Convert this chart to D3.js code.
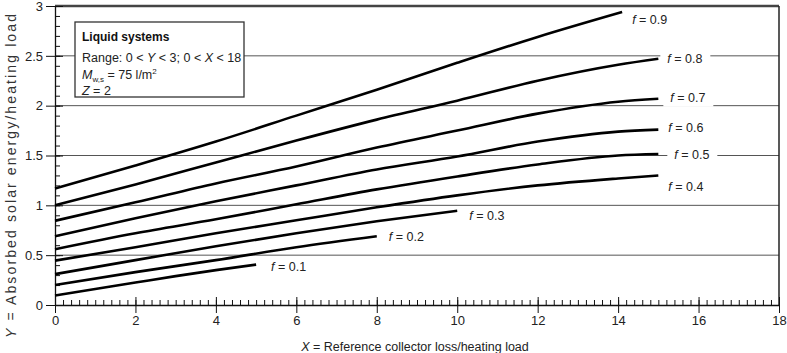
<!DOCTYPE html>
<html>
<head>
<meta charset="utf-8">
<script src="https://cdn.jsdelivr.net/npm/d3@7"></script>
<style>
  body { margin: 0; background: #fff; }
  svg { display: block; font-family: "Liberation Sans", Arial, sans-serif; }
  .axis text { font-size: 13px; fill: #222; }
  .axis path, .axis line { stroke: #111; }
</style>
</head>
<body>
<svg id="chart" width="787" height="353"></svg>
<script>
// chart values
var xTicks = [0, 2, 4, 6, 8, 10, 12, 14, 16, 18];
var yTicks = [0, 0.5, 1, 1.5, 2, 2.5, 3];
var fNames = ["0.1", "0.2", "0.3", "0.4", "0.5", "0.6", "0.7", "0.8", "0.9"];

var xF01 = [0, 1, 2, 3, 4, 5];
var yF01 = [0.095, 0.16, 0.225, 0.29, 0.35, 0.405];
var xF02 = [0, 2, 4, 6, 8];
var yF02 = [0.20, 0.33, 0.45, 0.58, 0.69];
var xF03 = [0, 2, 4, 6, 8, 10];
var yF03 = [0.31, 0.45, 0.59, 0.72, 0.84, 0.945];
var xLong = [0, 2, 4, 6, 8, 10, 12, 14, 15];
var yF04 = [0.445, 0.58, 0.72, 0.85, 0.98, 1.10, 1.20, 1.27, 1.30];
var yF05 = [0.56, 0.72, 0.86, 1.01, 1.16, 1.29, 1.41, 1.50, 1.515];
var yF06 = [0.69, 0.87, 1.04, 1.20, 1.36, 1.49, 1.64, 1.74, 1.76];
var yF07 = [0.845, 1.03, 1.22, 1.39, 1.58, 1.75, 1.92, 2.04, 2.07];
var yF08 = [1.0, 1.21, 1.43, 1.65, 1.86, 2.05, 2.25, 2.41, 2.47];
var xF09 = [0, 2, 4, 6, 8, 10, 12, 14.1];
var yF09 = [1.17, 1.40, 1.64, 1.90, 2.16, 2.43, 2.69, 2.94];

// label offsets from the end of each curve (layout only)
var labelDx = [15, 12, 12, 10, 16, 10, 12, 9, 10];
var labelDy = [2, 0, 5, 11, 1, -2, -1, 0, 8];

function pairs(xs, ys) {
  return xs.map(function(d, i) { return [d, ys[i]]; });
}

var series = [
  pairs(xF01, yF01), pairs(xF02, yF02), pairs(xF03, yF03),
  pairs(xLong, yF04), pairs(xLong, yF05), pairs(xLong, yF06),
  pairs(xLong, yF07), pairs(xLong, yF08), pairs(xF09, yF09)
];

var svg = d3.select("#chart"),
    margin = {top: 6, right: 8, bottom: 48, left: 55},
    width = +svg.attr("width") - margin.left - margin.right,
    height = +svg.attr("height") - margin.top - margin.bottom;

var x = d3.scaleLinear().domain([0, 18]).range([margin.left, margin.left + width]);
var y = d3.scaleLinear().domain([0, 3]).range([margin.top + height, margin.top]);

// grid lines
svg.append("g").selectAll("line")
    .data(yTicks.filter(function(d) { return d > 0 && d < 3; }))
  .enter().append("line")
    .attr("x1", x(0)).attr("x2", x(18))
    .attr("y1", function(d) { return y(d); })
    .attr("y2", function(d) { return y(d); })
    .attr("stroke", "#555").attr("stroke-width", 1);

// top and right frame
svg.append("line")
    .attr("x1", x(0)).attr("x2", x(18))
    .attr("y1", y(3)).attr("y2", y(3))
    .attr("stroke", "#444").attr("stroke-width", 2.5);
svg.append("line")
    .attr("x1", x(18)).attr("x2", x(18))
    .attr("y1", y(3)).attr("y2", y(0))
    .attr("stroke", "#222").attr("stroke-width", 1.5);

// y axis: minor inward, major inward, major outward with labels
svg.append("g").attr("class", "axis")
    .attr("transform", "translate(" + x(0) + ",0)")
    .call(d3.axisRight(y).tickValues(d3.range(0, 31).map(function(d) { return d / 10; }))
          .tickSize(5).tickFormat(""))
    .call(function(g) { g.select(".domain").remove(); });
svg.append("g").attr("class", "axis")
    .attr("transform", "translate(" + x(0) + ",0)")
    .call(d3.axisRight(y).tickValues(yTicks).tickSize(8).tickFormat(""))
    .call(function(g) { g.select(".domain").remove(); });
svg.append("g").attr("class", "axis")
    .attr("transform", "translate(" + x(0) + ",0)")
    .call(d3.axisLeft(y).tickValues(yTicks).tickSize(9).tickSizeOuter(0).tickPadding(3)
          .tickFormat(function(d) { return String(d); }));

// x axis
svg.append("g").attr("class", "axis")
    .attr("transform", "translate(0," + y(0) + ")")
    .call(d3.axisTop(x).tickValues(d3.range(0, 91).map(function(d) { return d / 5; }))
          .tickSize(5).tickFormat(""))
    .call(function(g) { g.select(".domain").remove(); });
svg.append("g").attr("class", "axis")
    .attr("transform", "translate(0," + y(0) + ")")
    .call(d3.axisTop(x).tickValues(xTicks).tickSize(8).tickFormat(""))
    .call(function(g) { g.select(".domain").remove(); });
svg.append("g").attr("class", "axis")
    .attr("transform", "translate(0," + y(0) + ")")
    .call(d3.axisBottom(x).tickValues(xTicks).tickSize(8).tickSizeOuter(0).tickPadding(3)
          .tickFormat(function(d) { return String(d); }));

svg.selectAll(".axis .domain").attr("stroke-width", 1.3);

// curves
var line = d3.line()
    .x(function(d) { return x(d[0]); })
    .y(function(d) { return y(d[1]); })
    .curve(d3.curveMonotoneX);

svg.append("g").selectAll("path")
    .data(series)
  .enter().append("path")
    .attr("d", line)
    .attr("fill", "none")
    .attr("stroke", "#000")
    .attr("stroke-width", 2.6);

// curve labels on white patches
var labels = svg.append("g").selectAll("g")
    .data(series)
  .enter().append("g")
    .attr("transform", function(d, i) {
        var last = d[d.length - 1];
        return "translate(" + (x(last[0]) + labelDx[i]) + "," + (y(last[1]) + labelDy[i]) + ")";
    });

labels.append("rect")
    .attr("x", -7).attr("y", -9).attr("height", 18)
    .attr("width", 50)
    .attr("fill", "#fff");

labels.append("text")
    .attr("dy", "0.35em")
    .style("font-size", "12.5px")
    .style("fill", "#222")
    .each(function(d, i) {
        var t = d3.select(this);
        t.append("tspan").style("font-style", "italic").text("f");
        t.append("tspan").text(" = " + fNames[i]);
    });

// legend box
var lg = svg.append("g");
lg.append("rect")
    .attr("x", 75).attr("y", 22).attr("width", 169).attr("height", 75)
    .attr("fill", "#fff").attr("stroke", "#333").attr("stroke-width", 1.3);
lg.append("text").attr("x", 82).attr("y", 41)
    .style("font-size", "12px").style("font-weight", "bold").style("fill", "#111")
    .text("Liquid systems");
var r = lg.append("text").attr("x", 82).attr("y", 62)
    .style("font-size", "12.5px").style("fill", "#222");
r.append("tspan").text("Range: 0 < ");
r.append("tspan").style("font-style", "italic").text("Y");
r.append("tspan").text(" < 3; 0 < ");
r.append("tspan").style("font-style", "italic").text("X");
r.append("tspan").text(" < 18");
var m = lg.append("text").attr("x", 82).attr("y", 79)
    .style("font-size", "12.5px").style("fill", "#222");
m.append("tspan").style("font-style", "italic").text("M");
m.append("tspan").attr("dy", 3).style("font-size", "8px").text("w,s");
m.append("tspan").attr("dy", -3).text(" = 75 l/m");
m.append("tspan").attr("dy", -5).style("font-size", "8px").text("2");
var z = lg.append("text").attr("x", 82).attr("y", 95)
    .style("font-size", "12.5px").style("fill", "#222");
z.append("tspan").style("font-style", "italic").text("Z");
z.append("tspan").text(" = 2");

// axis titles
var xt = svg.append("text")
    .attr("x", 415).attr("y", 351)
    .attr("text-anchor", "middle")
    .style("font-size", "12.5px").style("fill", "#222");
xt.append("tspan").style("font-style", "italic").text("X");
xt.append("tspan").text(" = Reference collector loss/heating load");

var yt = svg.append("text")
    .attr("transform", "translate(16,176) rotate(-90)")
    .attr("text-anchor", "middle")
    .attr("textLength", 324)
    .attr("lengthAdjust", "spacing")
    .style("font-size", "14px").style("fill", "#333");
yt.append("tspan").style("font-style", "italic").text("Y");
yt.append("tspan").text(" = Absorbed solar energy/heating load");
</script>
</body>
</html>
